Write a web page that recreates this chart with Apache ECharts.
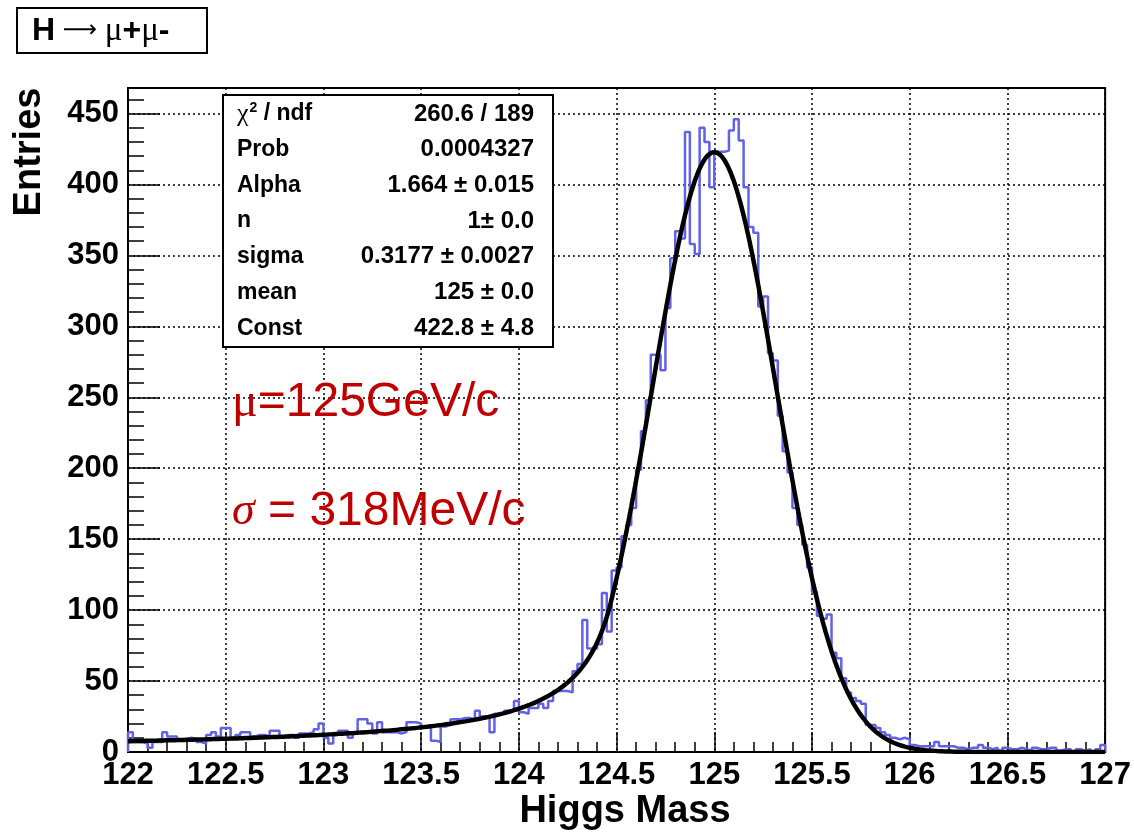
<!DOCTYPE html>
<html>
<head>
<meta charset="utf-8">
<script src="https://cdn.jsdelivr.net/npm/echarts@6/dist/echarts.min.js"></script>
<style>
  html, body { margin: 0; padding: 0; background: #fff; }
  #chart { width: 1134px; height: 832px; }
</style>
</head>
<body>
<div id="chart"></div>
<script>
// Histogram binning and bin contents (200 bins from 122 to 127)
const binLow = 122;
const binWidth = 0.025;
const counts = [
  14, 7, 7, 6, 3, 7, 7, 14, 11, 11,
  9, 9, 10, 9, 7, 6, 12, 14, 11, 17,
  17, 10, 12, 14, 14, 11, 12, 12, 11, 15,
  15, 11, 12, 12, 10, 13, 13, 14, 16, 20,
  10, 6, 12, 15, 15, 10, 13, 23, 23, 20,
  13, 21, 14, 14, 14, 13, 14, 21, 21, 20,
  18, 17, 8, 7, 18, 19, 23, 23, 24, 24,
  23, 29, 25, 25, 14, 27, 27, 29, 29, 36,
  28, 27, 31, 31, 34, 31, 36, 43, 43, 43,
  42, 57, 62, 93, 73, 73, 76, 112, 85, 128,
  130, 152, 160, 172, 199, 226, 248, 280, 280, 269,
  313, 348, 367, 362, 437, 358, 351, 440, 430, 398,
  423, 423, 424, 438, 446, 431, 398, 370, 366, 314,
  321, 281, 276, 237, 212, 197, 172, 160, 146, 130,
  113, 96, 94, 97, 70, 66, 52, 42, 38, 36,
  34, 19, 19, 17, 14, 12, 10, 9, 10, 9,
  5, 4, 4, 4, 4, 7, 4, 4, 4, 3,
  3, 2, 3, 3, 5, 3, 2, 3, 1, 3,
  2, 2, 3, 2, 1, 3, 2, 2, 3, 3,
  1, 2, 2, 0, 2, 1, 2, 0, 2, 5
];

// Crystal Ball fit parameters
const cbAlpha = 1.664;
const cbN = 1;
const cbSigma = 0.3177;
const cbMean = 125;
const cbConst = 422.8;

// Fit statistics box
const statNames = ['{g|\u03c7}{s|2}{b| / ndf}', 'Prob', 'Alpha', 'n', 'sigma', 'mean', 'Const'];
const statValues = ['260.6 / 189', '0.0004327', '1.664 \u00b1 0.015', '1\u00b1 0.0',
                    '0.3177 \u00b1 0.0027', '125 \u00b1 0.0', '422.8 \u00b1 4.8'];

// Axis ticks
const xTicks = [122, 122.5, 123, 123.5, 124, 124.5, 125, 125.5, 126, 126.5, 127];
const yTicks = [0, 50, 100, 150, 200, 250, 300, 350, 400, 450];
const yTop = 468;

// Histogram outline as a step polyline over the bin edges
const histLine = [[binLow, 0]];
counts.forEach((c, i) => {
  const lo = binLow + i * binWidth;
  histLine.push([lo, c], [lo + binWidth, c]);
});
histLine.push([binLow + counts.length * binWidth, 0]);

// Crystal Ball function evaluated from the fit parameters
function crystalBall(x) {
  const t = (x - cbMean) / cbSigma;
  if (t > -cbAlpha) return cbConst * Math.exp(-0.5 * t * t);
  const a = Math.pow(cbN / cbAlpha, cbN) * Math.exp(-0.5 * cbAlpha * cbAlpha);
  const b = cbN / cbAlpha - cbAlpha;
  return cbConst * a * Math.pow(b - t, -cbN);
}
const fitLine = [];
const nSamples = 1000;
for (let i = 0; i <= nSamples; i++) {
  const x = xTicks[0] + (xTicks[xTicks.length - 1] - xTicks[0]) * i / nSamples;
  fitLine.push([x, crystalBall(x)]);
}

const sans = "'Liberation Sans', Arial, sans-serif";
const serif = "'Liberation Serif', 'Times New Roman', serif";
const red = '#c00000';

const gridLeft = 128, gridTop = 88, gridRight = 1106, gridBottom = 752;

const dotted = { color: '#000', width: 1.5, type: [2, 3] };

const statBox = { x: 223, y: 95, w: 330, h: 252 };
const statGraphics = [{
  type: 'rect', z: 10,
  shape: { x: statBox.x, y: statBox.y, width: statBox.w, height: statBox.h },
  style: { fill: '#fff', stroke: '#000', lineWidth: 2 }
}];
statNames.forEach((name, i) => {
  const cy = 114 + i * 35.7;
  statGraphics.push({
    type: 'text', z: 11, x: 237, y: cy,
    style: {
      text: name, align: 'left', verticalAlign: 'middle',
      fontFamily: sans, fontWeight: 'bold', fontSize: 23, fill: '#000',
      rich: {
        g: { fontFamily: serif, fontSize: 26, fontWeight: 'normal' },
        s: { fontFamily: sans, fontSize: 14, fontWeight: 'bold', verticalAlign: 'top', padding: [0, 0, 10, 1] },
        b: { fontFamily: sans, fontSize: 23, fontWeight: 'bold' }
      }
    }
  });
  statGraphics.push({
    type: 'text', z: 11, x: 534, y: cy,
    style: {
      text: statValues[i], align: 'right', verticalAlign: 'middle',
      fontFamily: sans, fontWeight: 'bold', fontSize: 24, fill: '#000'
    }
  });
});

const chart = echarts.init(document.getElementById('chart'), null, { renderer: 'canvas' });

chart.setOption({
  backgroundColor: '#fff',
  animation: false,
  grid: {
    left: gridLeft, top: gridTop, right: 1134 - gridRight, bottom: 832 - gridBottom,
    show: true, borderColor: '#000', borderWidth: 2, backgroundColor: '#fff'
  },
  xAxis: {
    type: 'value',
    min: xTicks[0], max: xTicks[xTicks.length - 1], interval: xTicks[1] - xTicks[0],
    axisLine: { show: true, onZero: false, lineStyle: { color: '#000', width: 2 } },
    axisTick: { show: true, inside: true, length: 20, lineStyle: { color: '#000', width: 1.5 } },
    minorTick: { show: true, splitNumber: 5, length: 10, lineStyle: { color: '#000', width: 1.5 } },
    splitLine: { show: true, lineStyle: dotted },
    axisLabel: {
      margin: 8, color: '#000', fontFamily: sans, fontWeight: 'bold', fontSize: 31,
      formatter: v => String(Math.round(v * 10) / 10)
    }
  },
  yAxis: [{
    type: 'value',
    min: 0, max: yTop, interval: yTicks[1] - yTicks[0],
    axisLine: { show: true, onZero: false, lineStyle: { color: '#000', width: 2 } },
    axisTick: { show: true, inside: true, length: 32, lineStyle: { color: '#000', width: 1.5 } },
    splitLine: { show: true, lineStyle: dotted },
    axisLabel: {
      margin: 9, color: '#000', fontFamily: sans, fontWeight: 'bold', fontSize: 31,
      formatter: v => (yTicks.indexOf(v) >= 0 ? String(v) : '')
    }
  }, {
    // minor ticks every 10 entries
    type: 'value', position: 'left',
    min: 0, max: yTop, interval: 10,
    axisLine: { show: false },
    axisTick: { show: true, inside: true, length: 16, lineStyle: { color: '#000', width: 1.5 } },
    splitLine: { show: false },
    axisLabel: { show: false }
  }],
  series: [{
    type: 'line', name: 'hist', data: histLine,
    showSymbol: false, symbol: 'none', z: 3,
    lineStyle: { color: '#6262e8', width: 2.5 },
    clip: true
  }, {
    type: 'line', name: 'fit', data: fitLine,
    showSymbol: false, symbol: 'none', smooth: false, z: 4,
    lineStyle: { color: '#000', width: 4.5 },
    clip: true
  }],
  graphic: [
    // Title box
    {
      type: 'rect', z: 10,
      shape: { x: 17, y: 8, width: 190, height: 45 },
      style: { fill: '#fff', stroke: '#000', lineWidth: 2 }
    },
    {
      type: 'text', z: 11, x: 32, y: 31,
      style: {
        text: '{b|H}{a| \u27f6 }{n|\u03bc}{b|+}{n|\u03bc}{b|-}',
        align: 'left', verticalAlign: 'middle', fill: '#000',
        rich: {
          b: { fontFamily: sans, fontWeight: 'bold', fontSize: 32 },
          a: { fontFamily: "'DejaVu Sans', sans-serif", fontWeight: 'normal', fontSize: 24 },
          n: { fontFamily: serif, fontWeight: 'normal', fontSize: 33 }
        }
      }
    },
    // Axis titles
    {
      type: 'text', z: 11, x: 30, y: 152, rotation: Math.PI / 2,
      style: {
        text: 'Entries', align: 'center', verticalAlign: 'middle',
        fontFamily: sans, fontWeight: 'bold', fontSize: 38, fill: '#000'
      }
    },
    {
      type: 'text', z: 11, x: 625, y: 812,
      style: {
        text: 'Higgs Mass', align: 'center', verticalAlign: 'middle',
        fontFamily: sans, fontWeight: 'bold', fontSize: 38, fill: '#000'
      }
    },
    // Fit result annotations
    {
      type: 'text', z: 11, x: 232, y: 403,
      style: {
        text: '{g|\u03bc}{t|=125GeV/c}', align: 'left', verticalAlign: 'middle', fill: red,
        rich: {
          g: { fontFamily: serif, fontSize: 48, fill: red },
          t: { fontFamily: sans, fontSize: 48, fill: red }
        }
      }
    },
    {
      type: 'text', z: 11, x: 232, y: 512,
      style: {
        text: '{g|\u03c3}{t| = 318MeV/c}', align: 'left', verticalAlign: 'middle', fill: red,
        rich: {
          g: { fontFamily: serif, fontStyle: 'italic', fontSize: 46, fill: red },
          t: { fontFamily: sans, fontSize: 48, fill: red }
        }
      }
    }
  ].concat(statGraphics)
});
</script>
</body>
</html>
